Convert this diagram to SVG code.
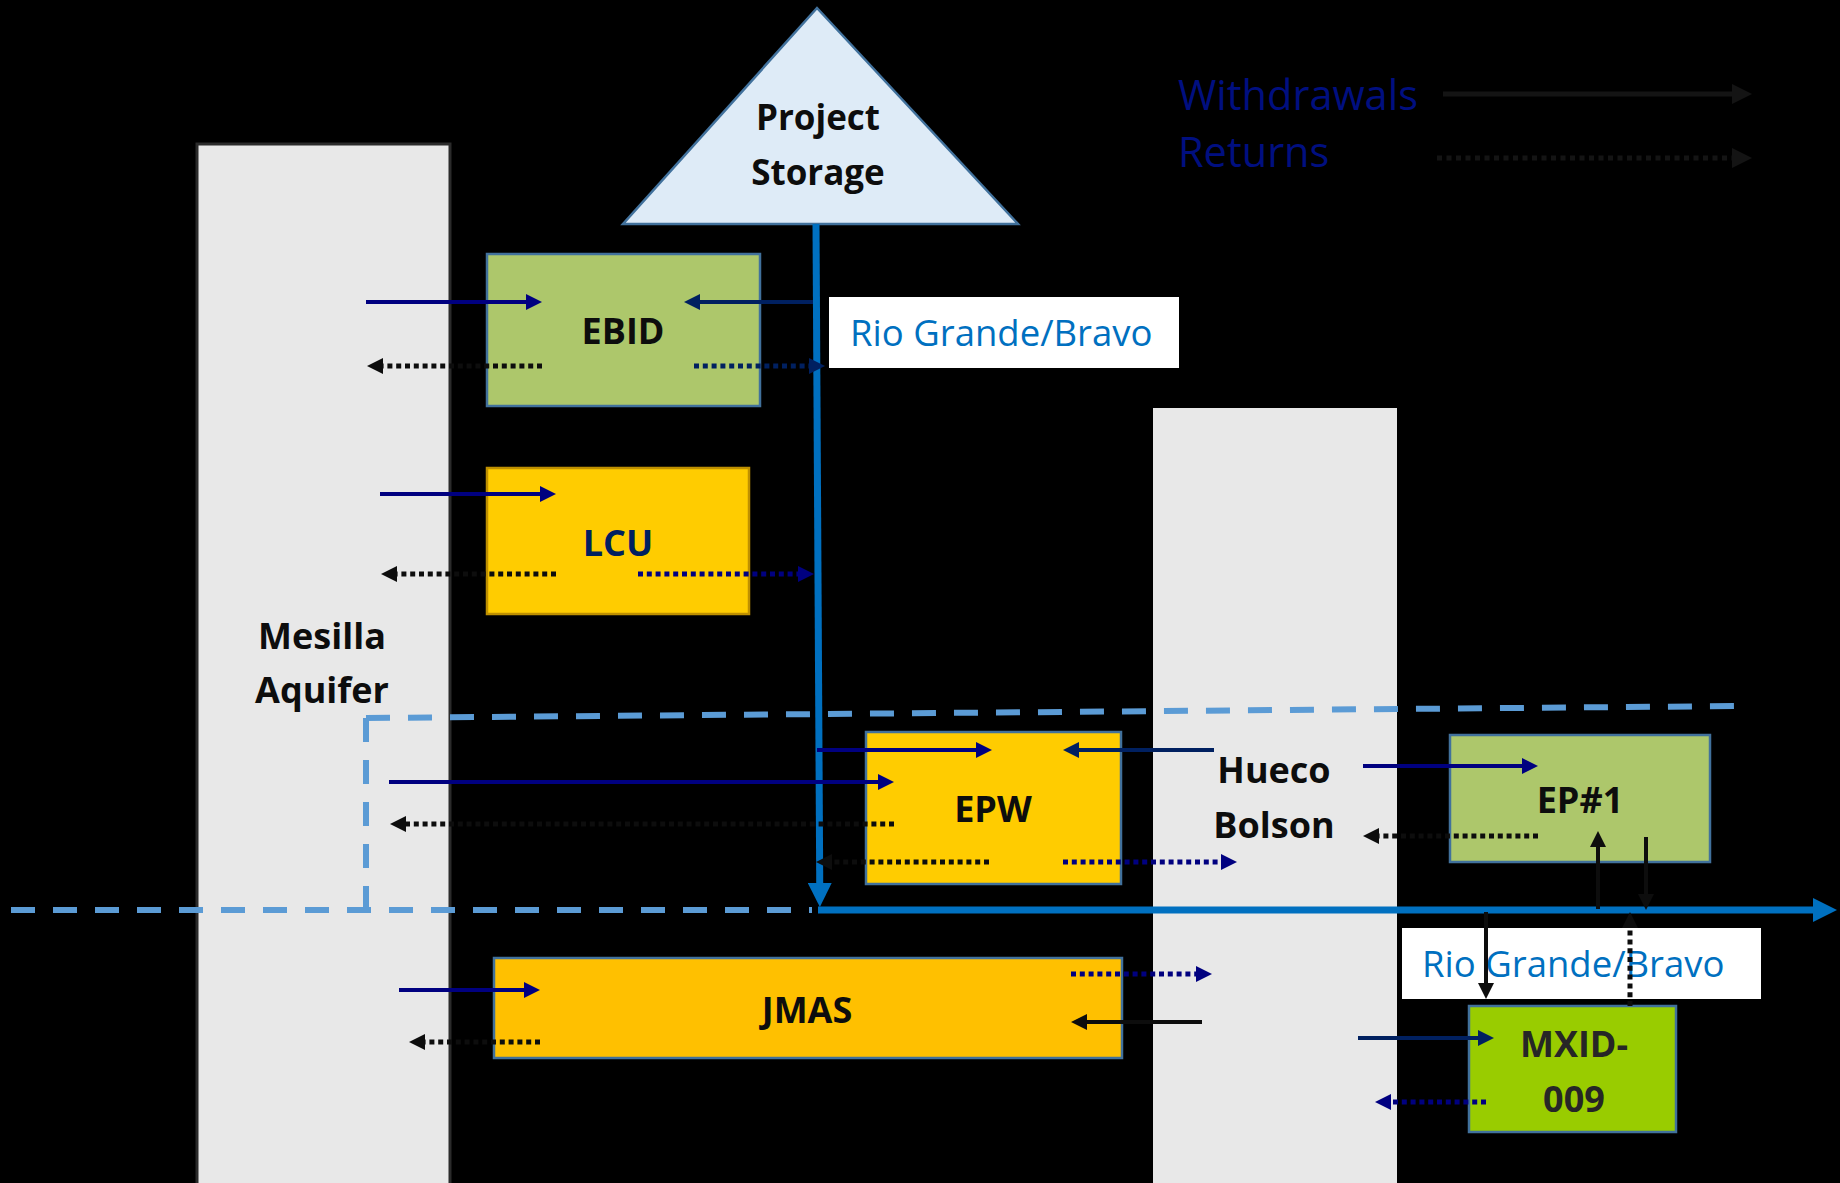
<svg xmlns="http://www.w3.org/2000/svg" width="1840" height="1183" viewBox="0 0 1840 1183">
<style>
.bg{fill:#000}
.lbl{font-family:"Open Sans","Liberation Sans",sans-serif;font-weight:700;font-size:36px;text-anchor:middle;fill:#0d0d0d}
.rio{font-family:"Open Sans","Liberation Sans",sans-serif;font-size:36.5px;fill:#0070c0}
.leg{font-family:"Open Sans","Liberation Sans",sans-serif;font-size:41.5px;fill:#000f80}
.w{fill:none;stroke-width:4}
.d{fill:none;stroke-width:5;stroke-dasharray:5 3.8}
.navy{stroke:#000080}
.dark{stroke:#002060}
.blk{stroke:#0d0d0d}
.dash{fill:none;stroke:#5b9bd5;stroke-width:6;stroke-dasharray:24 18}
.river{fill:none;stroke:#0070c0;stroke-width:7}
.box{stroke:#41719c;stroke-width:2.5}
</style>
<defs>
<marker id="mNavy" viewBox="0 0 16 16" refX="8" refY="8" markerWidth="16" markerHeight="16" markerUnits="userSpaceOnUse" orient="auto"><path d="M0,0L16,8L0,16z" fill="#000080"/></marker>
<marker id="mDark" viewBox="0 0 16 16" refX="8" refY="8" markerWidth="16" markerHeight="16" markerUnits="userSpaceOnUse" orient="auto"><path d="M0,0L16,8L0,16z" fill="#002060"/></marker>
<marker id="mBlk" viewBox="0 0 16 16" refX="8" refY="8" markerWidth="16" markerHeight="16" markerUnits="userSpaceOnUse" orient="auto"><path d="M0,0L16,8L0,16z" fill="#0d0d0d"/></marker>
<marker id="mLeg" viewBox="0 0 16 16" refX="8" refY="8" markerWidth="20" markerHeight="20" markerUnits="userSpaceOnUse" orient="auto"><path d="M0,0L16,8L0,16z" fill="#141414"/></marker>
<marker id="mRiver" viewBox="0 0 24 24" refX="12" refY="12" markerWidth="24" markerHeight="24" markerUnits="userSpaceOnUse" orient="auto"><path d="M0,0L24,12L0,24z" fill="#0070c0"/></marker>
</defs>
<rect class="bg" x="0" y="0" width="1840" height="1183"/>

<g id="mesilla">
<rect x="197" y="144" width="253" height="1045" fill="#e8e8e8" stroke="#2b2b2b" stroke-width="3"/>
<text class="lbl" x="322" y="649">Mesilla</text>
<text class="lbl" x="322" y="703">Aquifer</text>
</g>
<g id="hueco">
<rect x="1153" y="408" width="244" height="780" fill="#e8e8e8"/>
<text class="lbl" x="1274" y="783">Hueco</text>
<text class="lbl" x="1274" y="838">Bolson</text>
</g>

<g id="boundaries">
<path class="dash" d="M366,718 L1741,706"/>
<path class="dash" d="M366,718 L366,910"/>
<path class="dash" d="M11,910 L812,910"/>
</g>

<g id="storage">
<polygon points="817,8 623,224 1018,224" fill="#deebf7" stroke="#41719c" stroke-width="2.5"/>
<text class="lbl" x="818" y="130" style="font-size:35px">Project</text>
<text class="lbl" x="818" y="185" style="font-size:35px">Storage</text>
</g>

<g id="ebid">
<rect class="box" x="487" y="254" width="273" height="152" fill="#adc76b"/>
<text class="lbl" x="623" y="344">EBID</text>
</g>
<g id="lcu">
<rect x="487" y="468" width="262" height="146" fill="#ffcc00" stroke="#bf9000" stroke-width="2.5"/>
<text class="lbl" x="618" y="556" style="fill:#002060">LCU</text>
</g>
<g id="epw">
<rect class="box" x="866" y="732" width="255" height="152" fill="#ffcc00"/>
<text class="lbl" x="993" y="822">EPW</text>
</g>
<g id="ep1">
<rect class="box" x="1450" y="735" width="260" height="127" fill="#adc76b"/>
<text class="lbl" x="1580" y="813">EP#1</text>
</g>
<g id="jmas">
<rect class="box" x="494" y="958" width="628" height="100" fill="#ffc000"/>
<text class="lbl" x="807" y="1023">JMAS</text>
</g>
<g id="mxid">
<rect class="box" x="1469" y="1006" width="207" height="126" fill="#99cc00"/>
<text class="lbl" x="1574" y="1057" style="fill:#262626">MXID-</text>
<text class="lbl" x="1574" y="1112" style="fill:#262626">009</text>
</g>

<g id="river">
<path class="river" d="M816,224 L819.8,895" marker-end="url(#mRiver)"/>
<path class="river" d="M818,910 L1825,910" marker-end="url(#mRiver)"/>
</g>
<g id="rio-label-1">
<rect x="829" y="297" width="350" height="71" fill="#ffffff"/>
<text class="rio" x="850" y="346">Rio Grande/Bravo</text>
</g>
<g id="rio-label-2">
<rect x="1402" y="928" width="359" height="71" fill="#ffffff"/>
<text class="rio" x="1422" y="977">Rio Grande/Bravo</text>
</g>

<g id="legend">
<text class="leg" x="1178" y="110">Withdrawals</text>
<text class="leg" x="1178" y="167">Returns</text>
<path d="M1443,94 L1742,94" fill="none" stroke="#141414" stroke-width="5" marker-end="url(#mLeg)"/>
<path d="M1437,158 L1742,158" fill="none" stroke="#141414" stroke-width="5" stroke-dasharray="5 4.5" marker-end="url(#mLeg)"/>
</g>

<g id="connectors">
<path class="w navy" d="M366,302 L534,302" marker-end="url(#mNavy)"/>
<path class="w navy" d="M380,494 L548,494" marker-end="url(#mNavy)"/>
<path class="w navy" d="M389,782 L886,782" marker-end="url(#mNavy)"/>
<path class="w navy" d="M817,750 L984,750" marker-end="url(#mNavy)"/>
<path class="w navy" d="M1363,766 L1530,766" marker-end="url(#mNavy)"/>
<path class="w navy" d="M399,990 L532,990" marker-end="url(#mNavy)"/>

<path class="w dark" d="M813,302 L692,302" marker-end="url(#mDark)"/>
<path class="w dark" d="M1214,750 L1071,750" marker-end="url(#mDark)"/>
<path class="w dark" d="M1358,1038 L1486,1038" marker-end="url(#mDark)"/>

<path class="w blk" d="M1598,909 L1598,839" marker-end="url(#mBlk)"/>
<path class="w blk" d="M1646,837 L1646,902" marker-end="url(#mBlk)"/>
<path class="w blk" d="M1486,912 L1486,991" marker-end="url(#mBlk)"/>
<path class="w blk" d="M1202,1022 L1079,1022" marker-end="url(#mBlk)"/>

<path class="d blk" d="M542,366 L375,366" marker-end="url(#mBlk)"/>
<path class="d blk" d="M556,574 L389,574" marker-end="url(#mBlk)"/>
<path class="d blk" d="M894,824 L398,824" marker-end="url(#mBlk)"/>
<path class="d blk" d="M989,862 L824,862" marker-end="url(#mBlk)"/>
<path class="d blk" d="M1538,836 L1371,836" marker-end="url(#mBlk)"/>
<path class="d blk" d="M1630,1006 L1630,920" marker-end="url(#mBlk)"/>
<path class="d blk" d="M540,1042 L417,1042" marker-end="url(#mBlk)"/>

<path class="d dark" d="M694,366 L817,366" marker-end="url(#mDark)"/>

<path class="d navy" d="M638,574 L806,574" marker-end="url(#mNavy)"/>
<path class="d navy" d="M1063,862 L1229,862" marker-end="url(#mNavy)"/>
<path class="d navy" d="M1486,1102 L1383,1102" marker-end="url(#mNavy)"/>
<path class="d navy" d="M1071,974 L1204,974" marker-end="url(#mNavy)"/>
</g>
</svg>
